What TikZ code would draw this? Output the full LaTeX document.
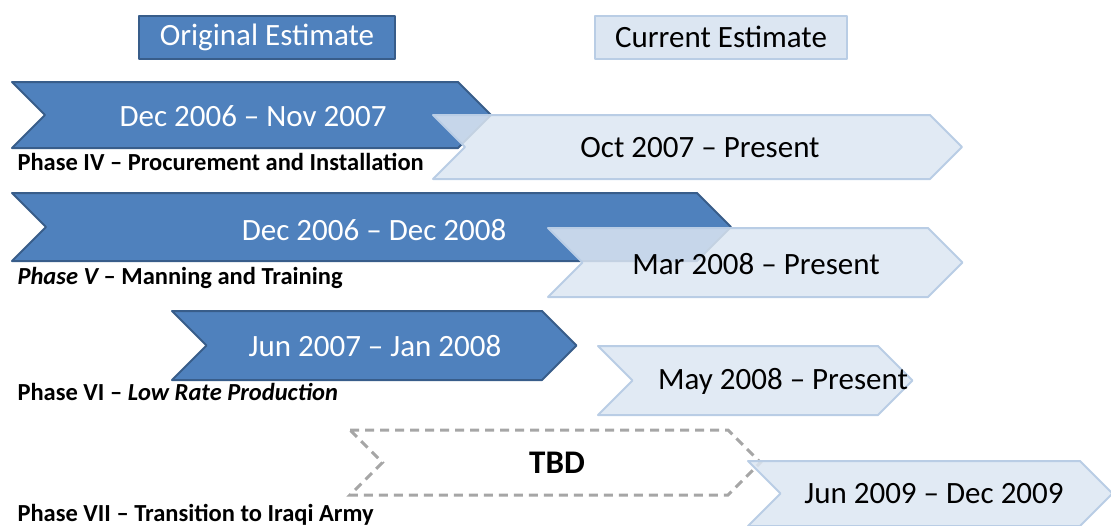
\documentclass[tikz,border=0pt]{standalone}
\usepackage{fontspec}
\setmainfont{Carlito}
\usetikzlibrary{positioning}

\definecolor{origfill}{HTML}{4F81BD}
\definecolor{origline}{HTML}{385D8A}
\definecolor{curfill}{HTML}{DCE6F2}
\definecolor{curline}{HTML}{B9CDE5}
\definecolor{tbdline}{HTML}{A6A6A6}

% chevron: [style] x-left, x-right, y-top, y-bottom
\newcommand{\chev}[5][]{%
  \draw[#1] (#2,#4) -- (#3,#4) -- ({#3+(#5-#4)/2},{(#4+#5)/2}) -- (#3,#5)
    -- (#2,#5) -- ({#2+(#5-#4)/2},{(#4+#5)/2}) -- cycle;}

\tikzset{
  orig/.style={fill=origfill, draw=origline, line width=2pt, line join=round},
  cur/.style={fill=curfill, draw=curline, line width=2pt, line join=round, fill opacity=0.85},
  tbd/.style={draw=tbdline, line width=3pt, dash pattern=on 9pt off 6pt},
  datelbl/.style={font=\fontsize{31}{36}\selectfont},
  phaselbl/.style={anchor=base west, font=\fontsize{24.5}{28}\selectfont\bfseries},
}

\begin{document}
\begin{tikzpicture}[x=1pt, y=-1pt]
      \useasboundingbox (0,0) rectangle (1111,525);
      \clip (0,0) rectangle (1111,525);
      \node[orig, minimum width=256pt, minimum height=43pt, text=white,
            font=\fontsize{31}{36}\selectfont] (origest) at (267,37) {Original Estimate};
      \node[cur, fill opacity=1, minimum width=252pt, minimum height=43pt,
            font=\fontsize{31}{36}\selectfont] (curest) at (721,37) {Current Estimate};
      % phase IV
      \chev[orig]{12}{458}{82}{148}
      \chev[cur]{433}{930}{115}{179}
      % phase V
      \chev[orig]{12}{697}{193}{261}
      \chev[cur]{548}{928}{228}{297}
      % phase VI
      \chev[orig]{172}{542}{311}{380}
      \chev[cur]{598}{878}{346}{415}
      % phase VII
      \chev[tbd]{350}{728}{430}{495}
      \chev[cur]{748}{1080}{461}{526}
      \node[datelbl, text=white] (origiv) at (253,116) {Dec 2006 -- Nov 2007};
      \node[datelbl] (curiv) at (700,148) {Oct 2007 -- Present};
      \node[datelbl, text=white] (origv) at (374,230) {Dec 2006 -- Dec 2008};
      \node[datelbl] (curv) at (756,264) {Mar 2008 -- Present};
      \node[datelbl, text=white] (origvi) at (375,346) {Jun 2007 -- Jan 2008};
      \node[datelbl] (curvi) at (783,381) {May 2008 -- Present};
      \node[datelbl, font=\fontsize{33}{38}\selectfont\bfseries] (origvii) at (557,463) {TBD};
      \node[datelbl] (curvii) at (934,494) {Jun 2009 -- Dec 2009};
      \node[phaselbl] (phaseiv) at (14,170) {Phase IV -- Procurement and Installation};
      \node[phaselbl] (phasev) at (14,284) {\itshape Phase V \upshape -- Manning and Training};
      \node[phaselbl] (phasevi) at (14,400) {Phase VI -- \itshape Low Rate Production};
      \node[phaselbl] (phasevii) at (14,521) {Phase VII -- Transition to Iraqi Army};
    \end{tikzpicture}
\end{document}
